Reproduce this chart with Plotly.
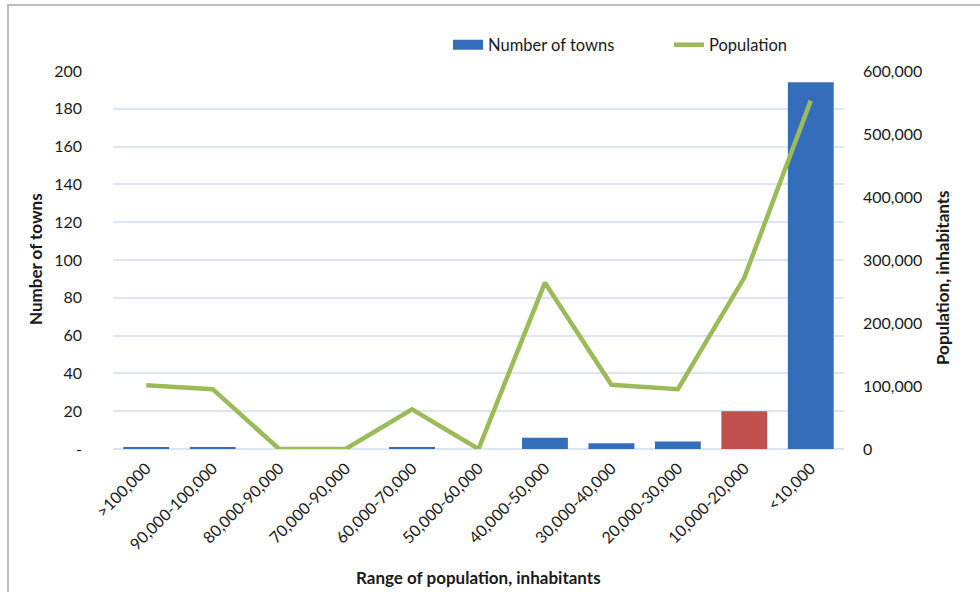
import plotly.graph_objects as go

categories = [">100,000", "90,000-100,000", "80,000-90,000", "70,000-90,000",
              "60,000-70,000", "50,000-60,000", "40,000-50,000", "30,000-40,000",
              "20,000-30,000", "10,000-20,000", "<10,000"]
towns = [1, 1, 0, 0, 1, 0, 6, 3, 4, 20, 194]
population = [101000, 95000, 0, 0, 63000, 0, 264000, 102000, 95000, 272000, 553000]

left_ticks = [0, 20, 40, 60, 80, 100, 120, 140, 160, 180, 200]
left_ticktext = ["-", "20", "40", "60", "80", "100", "120", "140", "160", "180", "200"]
right_ticks = [0, 100000, 200000, 300000, 400000, 500000, 600000]

BLUE = "#346EBB"
RED = "#C0504D"
GREEN = "#9BBB59"
FONT = "Lato"

bar_colors = [RED if c == "10,000-20,000" else BLUE for c in categories]

fig = go.Figure()
fig.add_trace(go.Bar(
    x=categories, y=towns, name="Number of towns",
    marker=dict(color=bar_colors, line=dict(width=0)),
    yaxis="y", showlegend=False,
))
# legend-only entry giving the wide rectangular swatch of the original
fig.add_trace(go.Scatter(
    x=[None], y=[None], name="Number of towns", mode="lines",
    line=dict(color=BLUE, width=10), yaxis="y", hoverinfo="skip",
))
fig.add_trace(go.Scatter(
    x=categories, y=population, name="Population", mode="lines",
    line=dict(color=GREEN, width=4.5),
    yaxis="y2",
))

W, H = 980, 592
L, R, T, B = 113, 136, 71, 143
pw, ph = W - L - R, H - T - B

def px_x(p):
    return (p - L) / pw

def px_y(p):
    return (H - B - p) / ph

grid = "#DCE6F2"

fig.update_layout(
    width=W, height=H,
    margin=dict(l=L, r=R, t=T, b=B),
    paper_bgcolor="white", plot_bgcolor="white",
    font=dict(family=FONT, size=16, color="#1a1a1a"),
    bargap=0.31,
    showlegend=True,
    legend=dict(orientation="h", x=px_x(448), y=px_y(45), xanchor="left", yanchor="middle",
                font=dict(size=16.5, family=FONT), entrywidth=176, entrywidthmode="pixels",
                traceorder="normal", bgcolor="rgba(0,0,0,0)"),
    xaxis=dict(
        type="category", tickangle=-45, showgrid=False, showline=False,
        ticks="", ticklabelstandoff=6, tickfont=dict(size=16),
        zeroline=False,
    ),
    yaxis=dict(
        range=[0, 200], tickvals=left_ticks, ticktext=left_ticktext,
        showgrid=True, gridcolor=grid, gridwidth=1.5,
        zeroline=True, zerolinecolor=grid, zerolinewidth=1.5,
        showline=False, ticks="", ticklabelstandoff=30, tickfont=dict(size=16),
    ),
    yaxis2=dict(
        range=[0, 600000], tickvals=right_ticks, tickformat=",",
        overlaying="y", side="right", showgrid=False, zeroline=False,
        showline=False, ticks="", ticklabelstandoff=18, tickfont=dict(size=16),
    ),
    shapes=[dict(type="rect", xref="paper", yref="paper",
                 x0=px_x(8), x1=px_x(1000), y0=px_y(620), y1=px_y(5),
                 line=dict(color="#A6A6A6", width=1.5), fillcolor="rgba(0,0,0,0)",
                 layer="below")],
    annotations=[
        dict(text="<b>Number of towns</b>", xref="paper", yref="paper",
             x=px_x(35), y=px_y(259), textangle=-90, showarrow=False,
             font=dict(size=17, family=FONT), xanchor="center", yanchor="middle"),
        dict(text="<b>Population, inhabitants</b>", xref="paper", yref="paper",
             x=px_x(942), y=px_y(278), textangle=-90, showarrow=False,
             font=dict(size=17, family=FONT), xanchor="center", yanchor="middle"),
        dict(text="<b>Range of population, inhabitants</b>", xref="paper", yref="paper",
             x=px_x(478), y=px_y(577), showarrow=False,
             font=dict(size=17, family=FONT), xanchor="center", yanchor="middle"),
    ],
)

fig.write_html("out.html")
